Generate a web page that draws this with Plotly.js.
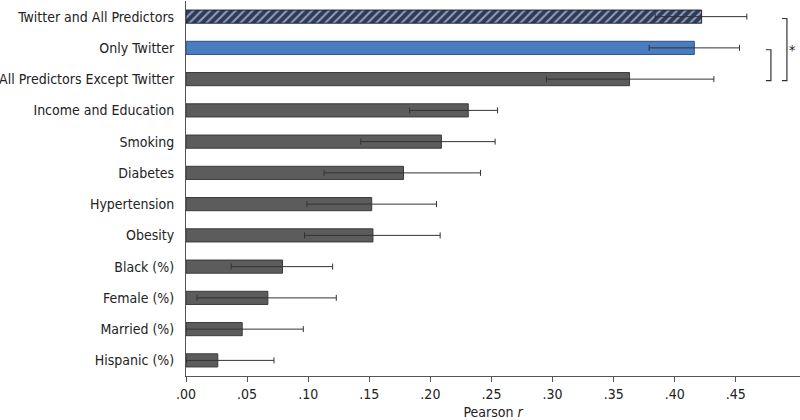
<!DOCTYPE html>
<html><head><meta charset="utf-8">
<script src="https://cdn.plot.ly/plotly-3.0.1.min.js"></script>
<style>html,body{margin:0;padding:0;background:#fff}#chart{width:800px;height:420px}</style>
</head><body><div id="chart"></div>
<script>
const categories = ["Twitter and All Predictors","Only Twitter","All Predictors Except Twitter","Income and Education","Smoking","Diabetes","Hypertension","Obesity","Black (%)","Female (%)","Married (%)","Hispanic (%)"];
const pearsonR = [0.422,0.416,0.363,0.231,0.209,0.178,0.152,0.153,0.079,0.067,0.046,0.026];
const ciLow    = [0.384,0.379,0.295,0.183,0.143,0.113,0.099,0.097,0.037,0.009,0.000,0.000];
const ciHigh   = [0.459,0.453,0.432,0.255,0.253,0.241,0.205,0.208,0.120,0.123,0.096,0.072];
const tickVals = [0,0.05,0.10,0.15,0.20,0.25,0.30,0.35,0.40,0.45];
const tickText = [".00",".05",".10",".15",".20",".25",".30",".35",".40",".45"];

const fillColors = categories.map((c,i)=> i===1 ? "#4a7cc0" : (i===0 ? "#2c3a5c" : "#5c5c5c"));
const lineColors = categories.map((c,i)=> i===1 ? "#2e5287" : (i===0 ? "#1e2840" : "#3a3a3a"));
const patterns = categories.map((c,i)=> i===0 ? "/" : "");

const trace = {
  type:"bar", orientation:"h",
  y: categories, x: pearsonR,
  marker:{color:fillColors, line:{color:lineColors,width:1},
    pattern:{shape:patterns, fgcolor:"#7f93bb", bgcolor:"#2c3a5c", size:6, solidity:0.35, fillmode:"overlay"}},
  error_x:{type:"data", symmetric:false,
    array: pearsonR.map((v,i)=>ciHigh[i]-v),
    arrayminus: pearsonR.map((v,i)=>v-ciLow[i]),
    color:"#333", thickness:1, width:3},
  hoverinfo:"none"
};

const font = "'Liberation Sans Narrow','DejaVu Sans Condensed','Liberation Sans',Arial,sans-serif";
const layout = {
  width:800, height:420,
  margin:{l:186, r:0, t:1, b:44},
  paper_bgcolor:"#fff", plot_bgcolor:"#fff",
  bargap:0.58, showlegend:false,
  font:{family:font, size:14, color:"#222"},
  xaxis:{range:[0,0.5025], tickvals:tickVals, ticktext:tickText, ticks:"outside", ticklen:5, tickcolor:"#555",
    showline:true, linecolor:"#555", linewidth:1, showgrid:false, zeroline:false,
    tickfont:{family:font,size:14,color:"#222"},
    title:{text:"Pearson <i>r</i>", font:{family:font,size:14,color:"#222"}, standoff:6}},
  yaxis:{autorange:"reversed", type:"category", showline:true, linecolor:"#555", linewidth:1, ticks:"", showgrid:false, zeroline:false,
    ticklabelstandoff:8, tickfont:{family:font,size:14,color:"#222"}},
  shapes:[
    {type:"path", xref:"x", yref:"y", path:"M 0.4746 1.06 L 0.4787 1.06 L 0.4787 2.05 L 0.4746 2.05", line:{color:"#333",width:1.2}},
    {type:"path", xref:"x", yref:"y", path:"M 0.4877 0.06 L 0.4918 0.06 L 0.4918 2.05 L 0.4877 2.05", line:{color:"#333",width:1.2}}
  ],
  annotations:[{xref:"x", yref:"y", x:0.4958, y:1.08, text:"*", showarrow:false, font:{family:font,size:14,color:"#222"}}]
};
Plotly.newPlot("chart",[trace],layout,{displayModeBar:false,staticPlot:true});
</script></body></html>
